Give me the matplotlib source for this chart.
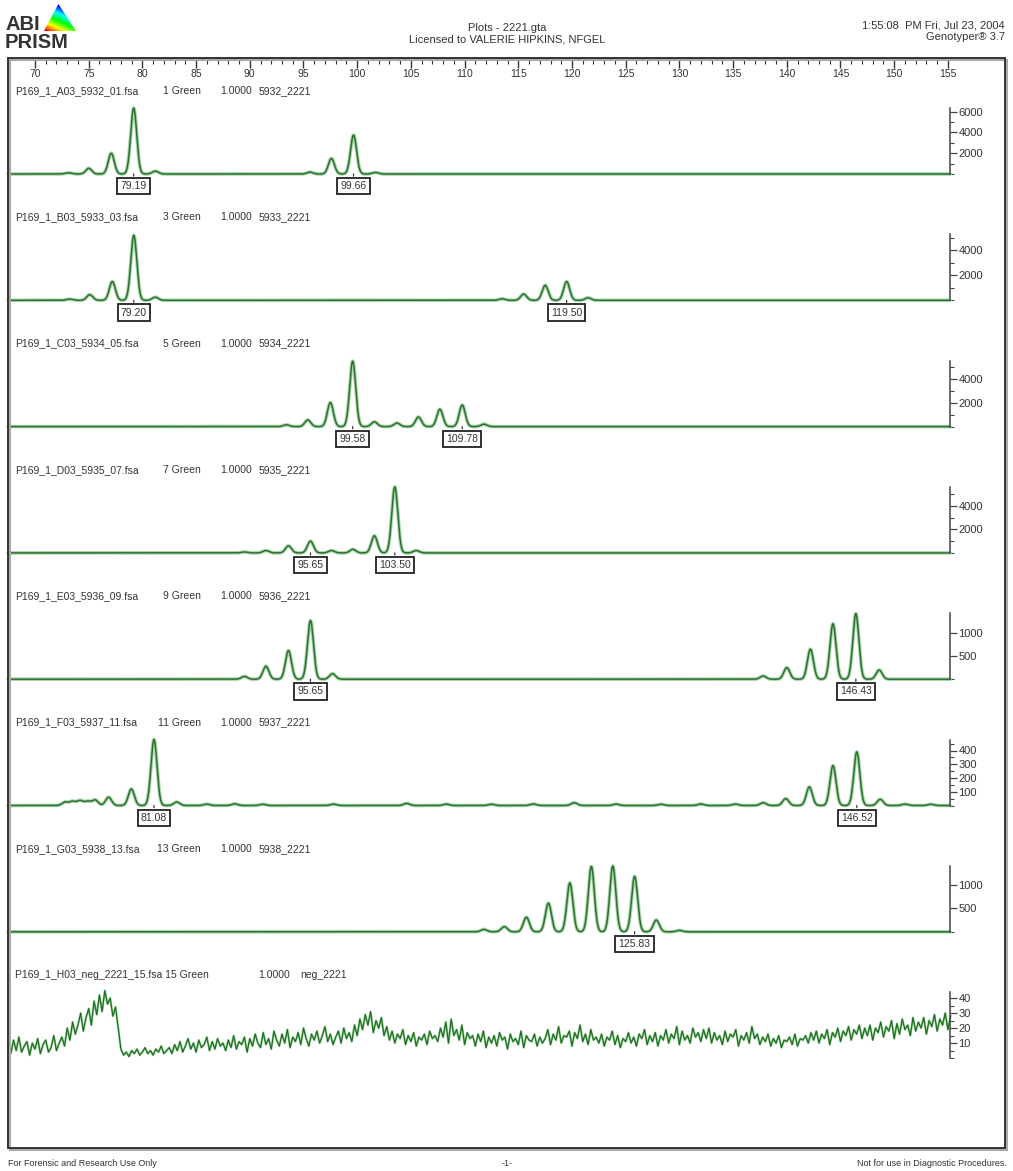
import numpy as np
import matplotlib.pyplot as plt
from matplotlib.patches import Rectangle, Polygon
from matplotlib.ticker import FixedLocator

W, H = 1013, 1171
plt.rcParams['font.family'] = ['Liberation Sans', 'DejaVu Sans']

# size ruler (bp)
ruler_labels = list(range(70, 160, 5))

# one row per lane
sample_files = ["P169_1_A03_5932_01.fsa", "P169_1_B03_5933_03.fsa", "P169_1_C03_5934_05.fsa",
                "P169_1_D03_5935_07.fsa", "P169_1_E03_5936_09.fsa", "P169_1_F03_5937_11.fsa",
                "P169_1_G03_5938_13.fsa", "P169_1_H03_neg_2221_15.fsa"]
dye_lanes = ["1 Green", "3 Green", "5 Green", "7 Green", "9 Green", "11 Green", "13 Green", "15 Green"]
scale_factors = ["1.0000"] * 8
sample_names = ["5932_2221", "5933_2221", "5934_2221", "5935_2221",
                "5936_2221", "5937_2221", "5938_2221", "neg_2221"]

# peaks: (size in bp, height in rfu)
peaks_a03 = [(73.1, 120), (75.0, 550), (77.1, 2000), (79.19, 6350), (81.2, 280),
             (95.6, 180), (97.6, 1500), (99.66, 3750), (101.7, 150)]
peaks_b03 = [(73.2, 100), (75.1, 450), (77.2, 1500), (79.20, 5200), (81.2, 250),
             (113.5, 120), (115.5, 500), (117.5, 1200), (119.50, 1500), (121.5, 200)]
peaks_c03 = [(93.4, 150), (95.4, 550), (97.5, 2000), (99.58, 5450), (101.6, 400), (103.7, 300),
             (105.7, 800), (107.7, 1450), (109.78, 1800), (111.8, 200)]
peaks_d03 = [(89.5, 80), (91.5, 200), (93.6, 600), (95.65, 1000), (97.6, 200), (99.6, 300),
             (101.6, 1450), (103.50, 5600), (105.5, 200)]
peaks_e03 = [(89.5, 60), (91.5, 280), (93.6, 620), (95.65, 1270), (97.7, 120),
             (137.8, 70), (140.0, 250), (142.2, 650), (144.3, 1200), (146.43, 1420), (148.6, 200)]
peaks_f03 = [(72.8, 25), (73.5, 30), (74.2, 35), (74.9, 30), (75.6, 40), (76.85, 60),
             (78.97, 120), (81.08, 480), (83.2, 25), (86.0, 10), (88.6, 12), (91.2, 9),
             (97.8, 10), (104.6, 15), (108.3, 10), (112.5, 9), (116.4, 11), (120.2, 20),
             (124.1, 10), (128.3, 9), (132.0, 11), (135.2, 10),
             (137.8, 20), (139.9, 50), (142.1, 135), (144.3, 290), (146.52, 390), (148.7, 45),
             (151.0, 10), (153.4, 9)]
peaks_g03 = [(111.8, 50), (113.7, 110), (115.75, 310), (117.8, 610), (119.8, 1040),
             (121.8, 1390), (123.8, 1400), (125.83, 1180), (127.85, 250), (130.0, 30)]

# negative control, read every 0.25 bp from 67.5 bp
neg_start = 67.5
neg_step = 0.25
neg_trace = [9, 3, 12, 5, 14, 4, 8, 11, 2, 10, 6, 13, 3, 9, 12, 4, 7, 15, 5, 10,
             14, 8, 20, 12, 24, 16, 22, 30, 18, 27, 33, 22, 38, 29, 42, 31, 45, 36, 40, 28,
             34, 20, 6, 2, 4, 1, 5, 3, 6, 2, 4, 7, 3, 5, 2, 6, 4, 8, 3, 5,
             7, 3, 9, 5, 11, 4, 8, 13, 6, 10, 4, 12, 7, 9, 14, 5, 11, 6, 13, 8,
             10, 5, 12, 7, 15, 6, 11, 9, 14, 4, 13, 8, 16, 10, 7, 17, 9, 13, 6, 18,
             12, 8, 16, 10, 19, 7, 14, 11, 17, 9, 20, 13, 8, 16, 12, 18, 10, 15, 21, 11,
             16, 9, 14, 18, 10, 20, 13, 17, 11, 22, 15, 26, 19, 29, 22, 31, 17, 25, 20, 27,
             15, 21, 12, 18, 10, 16, 13, 19, 9, 15, 11, 17, 8, 14, 12, 16, 9, 18, 13, 15,
             11, 20, 14, 24, 10, 26, 15, 19, 12, 22, 9, 17, 13, 15, 8, 16, 11, 18, 7, 14,
             10, 15, 8, 17, 12, 14, 6, 16, 11, 13, 9, 18, 7, 15, 12, 11, 16, 8, 14, 10,
             13, 19, 9, 16, 12, 21, 10, 15, 14, 18, 8, 17, 13, 22, 11, 16, 9, 19, 12, 14,
             10, 16, 8, 14, 12, 18, 9, 15, 7, 13, 11, 17, 10, 14, 8, 16, 13, 19, 9, 15,
             11, 17, 8, 15, 12, 19, 10, 16, 13, 21, 9, 18, 12, 15, 10, 20, 14, 17, 11, 19,
             13, 20, 10, 17, 12, 15, 9, 18, 11, 16, 14, 19, 8, 15, 12, 17, 10, 21, 13, 16,
             9, 14, 11, 16, 8, 13, 10, 15, 7, 12, 11, 14, 9, 16, 8, 13, 12, 15, 10, 17,
             12, 18, 10, 16, 13, 19, 9, 17, 14, 20, 11, 18, 15, 21, 12, 19, 16, 22, 13, 20,
             15, 22, 12, 20, 17, 24, 14, 21, 18, 25, 13, 23, 16, 26, 19, 22, 15, 27, 18, 24,
             20, 27, 16, 25, 21, 29, 18, 26, 22, 30, 19, 28]

# allele calls shown in boxes
calls = [[79.19, 99.66], [79.20, 119.50], [99.58, 109.78], [95.65, 103.50],
         [95.65, 146.43], [81.08, 146.52], [125.83], []]

# right-hand rfu scales
y_tops = [6360, 5280, 5500, 5600, 1430, 480, 1405, 44]
y_major = [[2000, 4000, 6000], [2000, 4000], [2000, 4000], [2000, 4000],
           [500, 1000], [100, 200, 300, 400], [500, 1000], [10, 20, 30, 40]]
y_minor = [[0, 1000, 3000, 5000], [0, 1000, 3000, 5000], [0, 1000, 3000, 5000], [0, 1000, 3000, 5000],
           [0], [0, 50, 150, 250, 350, 450], [0], [0, 5, 15, 25, 35]]

lane_peaks = [peaks_a03, peaks_b03, peaks_c03, peaks_d03, peaks_e03, peaks_f03, peaks_g03, None]


def fx(px):
    return px / W


def fy(py):
    return 1 - py / H


px_per_bp = 10.74
x_left = 70 - (35 - 8) / px_per_bp
x_right = 70 + (950 - 35) / px_per_bp
frame_right = 70 + (1005 - 35) / px_per_bp

fig = plt.figure(figsize=(W / 100, H / 100), dpi=100)
fig.patch.set_facecolor('white')
ink = '#333333'
fs = 7.5

# logo
fig.text(fx(5), fy(30), "ABI", fontsize=14.5, fontweight='bold', color=ink, va='baseline')
fig.text(fx(5), fy(48), "PRISM", fontsize=14.5, fontweight='bold', color=ink, va='baseline')
lax = fig.add_axes([fx(44), fy(31), 32 / W, 27 / H])
lax.set_xlim(0, 1)
lax.set_ylim(0, 1)
lax.axis('off')
gx, gy = np.meshgrid(np.linspace(0, 1, 60), np.linspace(0, 1, 60))
grad = 0.85 * (0.65 * gy + 0.35 * gx)
im = lax.imshow(grad, extent=[0, 1, 0, 1], origin='lower', cmap='gist_rainbow', aspect='auto')
tri = Polygon([(0.0, 0.0), (1.0, 0.0), (0.45, 1.0)], transform=lax.transData)
im.set_clip_path(tri)

# header
fig.text(fx(507), fy(28), "Plots - 2221.gta", fontsize=8, color=ink, ha='center', va='center')
fig.text(fx(507), fy(40), "Licensed to VALERIE HIPKINS, NFGEL", fontsize=8, color=ink, ha='center', va='center')
fig.text(fx(1005), fy(25), "1:55:08  PM Fri, Jul 23, 2004", fontsize=8, color=ink, ha='right', va='center')
fig.text(fx(1005), fy(37), "Genotyper\u00ae 3.7", fontsize=8, color=ink, ha='right', va='center')

# outer frame
fig.patches.append(Rectangle((fx(10), fy(1150)), fx(1007) - fx(10), (1150 - 60) / H,
                             transform=fig.transFigure, fill=False, lw=1.5, ec='#aaaaaa'))
fig.patches.append(Rectangle((fx(8), fy(1148)), fx(1005) - fx(8), (1148 - 58) / H,
                             transform=fig.transFigure, fill=False, lw=1.4, ec=ink))

# size ruler
rax = fig.add_axes([fx(8), fy(68), fx(1005) - fx(8), 10 / H])
rax.set_xlim(x_left, frame_right)
rax.set_ylim(0, 1)
for s in rax.spines.values():
    s.set_visible(False)
rax.set_yticks([])
rax.set_xticks(ruler_labels)
rax.set_xticklabels([str(v) for v in ruler_labels])
rax.xaxis.set_minor_locator(FixedLocator(range(70, 156)))
rax.tick_params(axis='x', which='both', top=True, bottom=False, labelbottom=True,
                direction='in', color=ink, labelsize=fs, labelcolor=ink, pad=0.5)
rax.tick_params(axis='x', which='major', length=7, width=1)
rax.tick_params(axis='x', which='minor', length=4, width=0.8)

xs = np.linspace(x_left, x_right, 4000)
sigma = 0.28

for i in range(8):
    base = 174 + i * 126.3
    title_y = base - 83

    # lane header row
    if i < 7:
        fig.text(fx(15), fy(title_y), sample_files[i], fontsize=fs, color=ink, va='center')
        fig.text(fx(201), fy(title_y), dye_lanes[i], fontsize=fs, color=ink, va='center', ha='right')
        fig.text(fx(220), fy(title_y), scale_factors[i], fontsize=fs, color=ink, va='center')
        fig.text(fx(259), fy(title_y), sample_names[i], fontsize=fs, color=ink, va='center')
    else:
        fig.text(fx(15), fy(title_y), sample_files[i] + " " + dye_lanes[i], fontsize=fs, color=ink, va='center')
        fig.text(fx(258), fy(title_y), scale_factors[i], fontsize=fs, color=ink, va='center')
        fig.text(fx(300), fy(title_y), sample_names[i], fontsize=fs, color=ink, va='center')

    ax = fig.add_axes([fx(8), fy(base), fx(950) - fx(8), 66 / H])
    ax.set_xlim(x_left, x_right)
    ax.set_ylim(0, y_tops[i])
    ax.patch.set_alpha(0)
    for side in ['left', 'top', 'bottom']:
        ax.spines[side].set_visible(False)
    ax.spines['right'].set_color('#444444')
    ax.spines['right'].set_linewidth(1.1)
    ax.set_xticks([])
    ax.yaxis.tick_right()
    ax.set_yticks(y_major[i])
    ax.set_yticklabels([str(v) for v in y_major[i]])
    ax.yaxis.set_minor_locator(FixedLocator(y_minor[i]))
    ax.tick_params(axis='y', which='both', direction='out', color='#444444',
                   labelsize=8, labelcolor=ink, pad=1)
    ax.tick_params(axis='y', which='major', length=5, width=0.9)
    ax.tick_params(axis='y', which='minor', length=3, width=0.8)

    if lane_peaks[i] is not None:
        ys = np.zeros_like(xs)
        for pos, h in lane_peaks[i]:
            ys += h * np.exp(-0.5 * ((xs - pos) / sigma) ** 2)
        ax.plot(xs, ys, color='#a6d8a6', lw=2.6, clip_on=False, solid_capstyle='round')
        ax.plot(xs, ys, color='#2f6f35', lw=1.1, clip_on=False)
    else:
        nx = neg_start + neg_step * np.arange(len(neg_trace))
        ax.plot(nx, neg_trace, color='#8fcc8f', lw=1.6, clip_on=False)
        ax.plot(nx, neg_trace, color='#1b6a1f', lw=0.8, clip_on=False)

    for v in calls[i]:
        ax.annotate('', xy=(v, 0), xytext=(0, -3.5), textcoords='offset points',
                    arrowprops=dict(arrowstyle='-', lw=0.9, color=ink))
        ax.annotate(f"{v:.2f}", xy=(v, 0), xytext=(0, -8.8), textcoords='offset points',
                    ha='center', va='center', fontsize=fs, color=ink,
                    bbox=dict(boxstyle='square,pad=0.3', fc='white', ec='#222222', lw=1.3))

# footer
foot = ['Liberation Sans Narrow', 'Liberation Sans', 'DejaVu Sans']
fig.text(fx(8), fy(1163), "For Forensic and Research Use Only", fontsize=6.5, color=ink,
         va='center', family=foot)
fig.text(fx(507), fy(1163), "-1-", fontsize=6.5, color=ink, va='center', ha='center', family=foot)
fig.text(fx(1007), fy(1163), "Not for use in Diagnostic Procedures.", fontsize=6.5, color=ink,
         va='center', ha='right', family=foot)

fig.savefig("out.png", dpi=100)
